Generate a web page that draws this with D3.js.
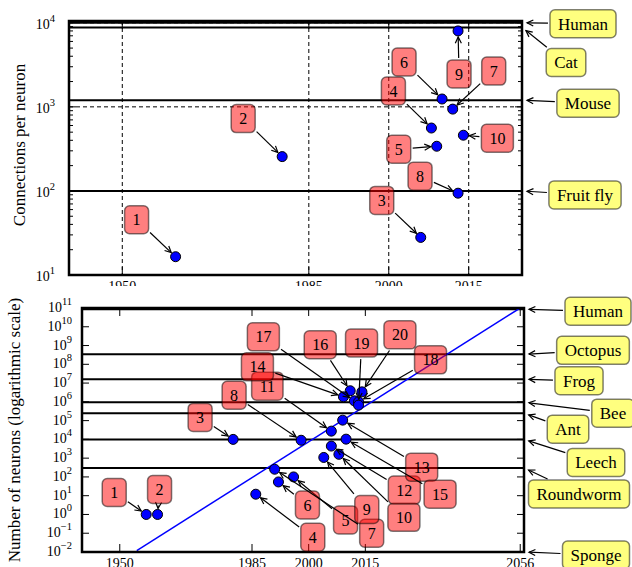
<!DOCTYPE html>
<html>
<head>
<meta charset="utf-8">
<script src="https://cdn.jsdelivr.net/npm/d3@7"></script>
<style>
  body { margin: 0; background: #fff; }
  svg { display: block; font-family: "Liberation Serif", "DejaVu Serif", serif; }
</style>
</head>
<body>
<div id="chart"></div>
<script>
// top panel: connections per neuron
var conYears = [1960, 1980, 2006, 2008, 2009, 2010, 2012, 2013, 2013, 2014];
var conValues = [16.5, 256, 28, 560, 340, 1240, 940, 94, 8000, 460];
var conSpecies = ["Human", "Cat", "Mouse", "Fruit fly"];
var conSpeciesValues = [10000, 8800, 1200, 100];
var conXTicks = [1950, 1985, 2000, 2015];
var conYExps = [1, 2, 3, 4];

// bottom panel: number of neurons
var neuYears = [1957, 1960, 1980, 1986, 1996, 1992, 1991, 1998, 2004, 2008,
  2006, 2006, 2009, 2009.2, 2009.9, 2011, 2012.1, 2013.2, 2013.2, 2014.1];
var neuValues = [1, 1, 1e4, 12, 100, 54, 257, 9000, 1090, 1600,
  27500, 4400, 1.06e5, 1.85e6, 1.03e4, 3.9e6, 1.13e6, 1.0e6, 6.7e5, 3.4e6];
var neuSpecies = ["Human", "Octopus", "Frog", "Bee", "Ant", "Leech", "Roundworm", "Sponge"];
var neuSpeciesValues = [8.6e10, 3.4e8, 1.6e7, 9.6e5, 2.5e5, 1e4, 302, 0];
var neuXTicks = [1950, 1985, 2000, 2015, 2056];
var neuYExps = d3.range(-2, 12);
var trendYears = [1954.5, 2056];
var trendValues = [0.012, 1e11];

// label placement (pixel offsets of the boxes from what they point at)
var conLabelOffsets = [[-39, -37], [-39, -38], [-39, -37], [-38, -37], [-38, 3],
  [-38, -37], [41, -38], [-38, -17], [1, 43], [34, 3]];
var conSpeciesOffsets = [[61, 1], [44, 35], [66, 3], [63, 4]];
var neuLabelOffsets = [[-32, -22], [2, -25], [-33, -22], [57, 43], [52, 43],
  [29, 23], [97, 64], [-67, -45], [43, 52], [65, 63],
  [-64, -45], [73, 44], [79, 47], [-86, -30], [94, 55],
  [-30, -46], [-91, -64], [72, -42], [3, -62], [38, -57]];
var neuSpeciesOffsets = [[74, 2], [69, -4], [55, 1.5], [89, 11], [44, 16], [72, 23], [55, 26], [72, 3]];

var W = 632, H = 567;
var svg = d3.select("#chart").append("svg").attr("width", W).attr("height", H);
svg.append("rect").attr("width", W).attr("height", H).attr("fill", "#fff");

function arrow(layer, sx, sy, ex, ey) {
  var a = Math.atan2(ey - sy, ex - sx);
  var hl = 7, hw = 0.45;
  layer.append("line")
    .attr("x1", sx).attr("y1", sy).attr("x2", ex).attr("y2", ey)
    .attr("stroke", "#000").attr("stroke-width", 1.2);
  layer.append("path")
    .attr("d", "M" + (ex - hl * Math.cos(a - hw)) + "," + (ey - hl * Math.sin(a - hw)) +
      "L" + ex + "," + ey +
      "L" + (ex - hl * Math.cos(a + hw)) + "," + (ey - hl * Math.sin(a + hw)))
    .attr("fill", "none").attr("stroke", "#000").attr("stroke-width", 1.2);
}

function callout(layer, txt, cx, cy, tx, ty, fill, fontSize, shrinkB) {
  var g = layer.append("g");
  var ar = g.append("g");
  var box = g.append("g");
  var rect = box.append("rect");
  var t = box.append("text")
    .attr("x", cx).attr("y", cy).attr("dy", "0.35em")
    .attr("text-anchor", "middle")
    .style("font-size", fontSize + "px")
    .text(txt);
  var w = t.node().getComputedTextLength() + 16, h = 28;
  rect.attr("x", cx - w / 2).attr("y", cy - h / 2)
    .attr("width", w).attr("height", h).attr("rx", 5)
    .attr("fill", fill).attr("stroke", "rgba(0,0,0,0.5)").attr("stroke-width", 1.5);
  var dx = tx - cx, dy = ty - cy, len = Math.hypot(dx, dy);
  var ux = dx / len, uy = dy / len;
  var edge = Math.min(dx ? (w / 2) / Math.abs(ux) : 1e9, dy ? (h / 2) / Math.abs(uy) : 1e9);
  arrow(ar, cx + ux * (edge + 2), cy + uy * (edge + 2), tx - ux * shrinkB, ty - uy * shrinkB);
}

function tenLabel(g, x, y, e, size, supSize) {
  var t = g.append("text").attr("x", x).attr("y", y).attr("text-anchor", "end")
    .style("font-size", size + "px");
  t.append("tspan").text("10");
  t.append("tspan").attr("dy", -7).style("font-size", supSize + "px")
    .text(String(e).replace("-", "\u2212"));
}

function panel(o) {
  var g = svg.append("g");
  var x = d3.scaleLinear().domain(o.xDomain).range([o.left, o.right]);
  var y = d3.scaleLog().domain(o.yDomain).range([o.bottom, o.top]);
  var yv = function (v) { return y(Math.max(v, o.yDomain[0])); };

  var clipId = "clip" + o.name;
  svg.append("clipPath").attr("id", clipId).append("rect")
    .attr("x", o.left).attr("y", o.top)
    .attr("width", o.right - o.left).attr("height", o.bottom - o.top);
  var plot = g.append("g").attr("clip-path", "url(#" + clipId + ")");

  if (o.grid) {
    plot.selectAll(".vgrid").data(o.xTicks).enter().append("line")
      .attr("x1", d => x(d)).attr("x2", d => x(d))
      .attr("y1", o.top).attr("y2", o.bottom)
      .attr("stroke", "#000").attr("stroke-width", 1).attr("stroke-dasharray", "4,3");
    plot.selectAll(".hgrid").data(o.yExps).enter().append("line")
      .attr("x1", o.left).attr("x2", o.right)
      .attr("y1", d => y(Math.pow(10, d))).attr("y2", d => y(Math.pow(10, d)))
      .attr("stroke", "#000").attr("stroke-width", 1).attr("stroke-dasharray", "4,3");
  }

  // species reference lines
  plot.selectAll(".level").data(o.speciesValues.filter(v => v > 0)).enter().append("line")
    .attr("x1", o.left).attr("x2", o.right)
    .attr("y1", d => y(d)).attr("y2", d => y(d))
    .attr("stroke", "#000").attr("stroke-width", 2);

  if (o.trend) {
    plot.append("path")
      .datum(d3.zip(o.trend[0], o.trend[1]))
      .attr("d", d3.line().x(d => x(d[0])).y(d => y(d[1])))
      .attr("fill", "none").attr("stroke", "#0000ff").attr("stroke-width", 1.5);
  }

  // ticks
  var tk = g.append("g").attr("stroke", "#000").attr("stroke-width", 1);
  o.xTicks.forEach(function (d) {
    tk.append("line").attr("x1", x(d)).attr("x2", x(d)).attr("y1", o.bottom).attr("y2", o.bottom - 8);
    tk.append("line").attr("x1", x(d)).attr("x2", x(d)).attr("y1", o.top).attr("y2", o.top + 8);
  });
  o.yExps.forEach(function (e) {
    var yy = y(Math.pow(10, e));
    tk.append("line").attr("x1", o.left).attr("x2", o.left + 7).attr("y1", yy).attr("y2", yy);
    tk.append("line").attr("x1", o.right).attr("x2", o.right - 7).attr("y1", yy).attr("y2", yy);
    if (o.minor) {
      d3.range(2, 10).forEach(function (m) {
        var v = m * Math.pow(10, e);
        if (v > o.yDomain[1]) return;
        var ym = y(v);
        tk.append("line").attr("x1", o.left).attr("x2", o.left + 4).attr("y1", ym).attr("y2", ym);
        tk.append("line").attr("x1", o.right).attr("x2", o.right - 4).attr("y1", ym).attr("y2", ym);
      });
    }
  });

  // points
  g.selectAll(".pt").data(d3.zip(o.years, o.values)).enter().append("circle")
    .attr("cx", d => x(d[0])).attr("cy", d => y(d[1])).attr("r", 5)
    .attr("fill", "#0000ff").attr("stroke", "#000").attr("stroke-width", 1);

  // frame
  g.append("rect")
    .attr("x", o.left).attr("y", o.top)
    .attr("width", o.right - o.left).attr("height", o.bottom - o.top)
    .attr("fill", "none").attr("stroke", "#000").attr("stroke-width", 2.5);

  // tick labels
  var tl = g.append("g").attr("fill", "#000");
  o.yExps.forEach(function (e) {
    tenLabel(tl, o.yLabelX, y(Math.pow(10, e)) + o.yLabelDy, e, 14, 10.5);
  });
  var xl = g.append("g");
  if (o.xLabelClip) {
    svg.append("clipPath").attr("id", clipId + "x").append("rect")
      .attr("x", 0).attr("y", 0).attr("width", W).attr("height", o.xLabelClip);
    xl.attr("clip-path", "url(#" + clipId + "x)");
  }
  xl.selectAll("text").data(o.xTicks).enter().append("text")
    .attr("x", d => x(d)).attr("y", o.bottom + o.xLabelDy)
    .attr("text-anchor", "middle").style("font-size", "14px")
    .text(d => d);

  g.append("text")
    .attr("transform", "translate(" + o.titleX + "," + o.titleY + ") rotate(-90)")
    .attr("text-anchor", "middle").style("font-size", "17px")
    .text(o.title);

  // numbered callouts
  var ann = g.append("g");
  o.years.forEach(function (yr, i) {
    var px = x(yr), py = y(o.values[i]);
    var off = o.labelOffsets[i];
    callout(ann, String(i + 1), px + off[0], py + off[1], px, py, "rgba(255,0,0,0.5)", 16, 6);
  });
  // species callouts on the right
  o.species.forEach(function (s, i) {
    var py = yv(o.speciesValues[i]);
    var off = o.speciesOffsets[i];
    callout(ann, s, o.right + off[0], py + off[1], o.right, py, "rgba(255,255,0,0.5)", 17, 5);
  });
}

panel({
  name: "top", left: 69, right: 522, top: 21, bottom: 275,
  xDomain: [1940, 2025], yDomain: [10, 10500],
  xTicks: conXTicks, yExps: conYExps, grid: true, minor: true,
  years: conYears, values: conValues, labelOffsets: conLabelOffsets,
  species: conSpecies, speciesValues: conSpeciesValues, speciesOffsets: conSpeciesOffsets,
  yLabelX: 55, yLabelDy: 6, xLabelDy: 16, xLabelClip: 286,
  title: "Connections per neuron", titleX: 25, titleY: 145
});

panel({
  name: "bottom", left: 82, right: 524, top: 308, bottom: 552,
  xDomain: [1940, 2057], yDomain: [0.01, 1e11],
  xTicks: neuXTicks, yExps: neuYExps, grid: false, minor: false,
  years: neuYears, values: neuValues, labelOffsets: neuLabelOffsets,
  species: neuSpecies, speciesValues: neuSpeciesValues, speciesOffsets: neuSpeciesOffsets,
  trend: [trendYears, trendValues],
  yLabelX: 72, yLabelDy: 4, xLabelDy: 16,
  title: "Number of neurons (logarithmic scale)", titleX: 20, titleY: 430
});
</script>
</body>
</html>
